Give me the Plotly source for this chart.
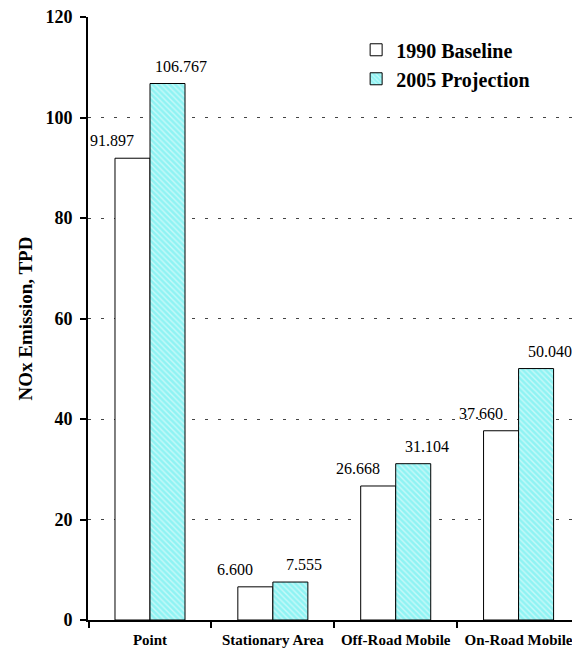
import plotly.graph_objects as go

categories = ["Point", "Stationary Area", "Off-Road Mobile", "On-Road Mobile"]
baseline_1990 = [91.897, 6.600, 26.668, 37.660]
projection_2005 = [106.767, 7.555, 31.104, 50.040]
series_names = ["1990 Baseline", "2005 Projection"]
y_ticks = [0, 20, 40, 60, 80, 100, 120]

FONT = "Liberation Serif"
CYAN = "#8ff3f3"

fig = go.Figure()
fig.add_trace(go.Bar(
    x=categories, y=baseline_1990, name=series_names[0], legendgroup="a",
    marker=dict(color="white", line=dict(color="black", width=1)),
))
fig.add_trace(go.Bar(
    x=categories, y=projection_2005, name=series_names[1], legendgroup="b",
    marker=dict(color=CYAN, line=dict(color="black", width=1),
                pattern=dict(shape="\\", bgcolor=CYAN, fgcolor="white",
                             size=4, solidity=0.35)),
))

annotations = []
for cat, v in zip(categories, baseline_1990):
    annotations.append(dict(x=cat, y=v, xref="x", yref="y", text=f"{v:.3f}",
                            showarrow=False, yanchor="bottom", yshift=7, xshift=-38,
                            font=dict(family=FONT, size=16, color="black")))
for cat, v in zip(categories, projection_2005):
    annotations.append(dict(x=cat, y=v, xref="x", yref="y", text=f"{v:.3f}",
                            showarrow=False, yanchor="bottom", yshift=7, xshift=31,
                            font=dict(family=FONT, size=16, color="black")))

fig.update_layout(
    width=580, height=656,
    margin=dict(l=80, r=8, t=9, b=44),
    paper_bgcolor="white", plot_bgcolor="white",
    barmode="group", bargap=0.43, bargroupgap=0,
    font=dict(family=FONT, color="black"),
    showlegend=True,
    legend=dict(x=0.545, y=0.978, xanchor="left", yanchor="top",
                font=dict(family=FONT, size=20, color="black", weight="bold"),
                bgcolor="rgba(0,0,0,0)", tracegroupgap=12, traceorder="normal",
                itemwidth=30),
    annotations=annotations,
    yaxis=dict(range=[0, 120], tickvals=y_ticks, showline=True, linecolor="black",
               linewidth=2, ticks="outside", ticklen=6, tickwidth=1.5, tickcolor="black",
               showgrid=True, gridcolor="#444444", gridwidth=1, griddash="3px,10px",
               zeroline=False, automargin=False, ticklabeloverflow="allow",
               ticklabelstandoff=4,
               tickfont=dict(family=FONT, size=18, color="black", weight="bold"),
               title=dict(text="NOx Emission, TPD", standoff=8,
                          font=dict(family=FONT, size=19, color="black", weight="bold"))),
    xaxis=dict(showline=True, linecolor="black", linewidth=2, ticks="outside",
               ticklen=6, tickwidth=1.5, tickcolor="black", tickson="boundaries",
               automargin=False, ticklabelstandoff=5, ticklabeloverflow="allow",
               tickangle=0,
               tickfont=dict(family=FONT, size=15, color="black", weight="bold")),
)

fig.write_html("out.html")
